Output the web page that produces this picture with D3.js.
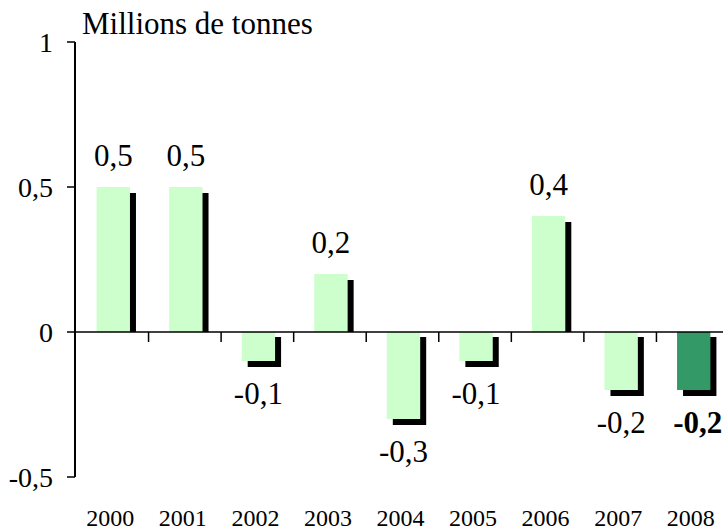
<!DOCTYPE html>
<html>
<head>
<meta charset="utf-8">
<script src="https://cdn.jsdelivr.net/npm/d3@7"></script>
</head>
<body style="margin:0">
<svg class="chart"></svg>
<script>
var years = ["2000", "2001", "2002", "2003", "2004", "2005", "2006", "2007", "2008"];
var values = [0.5, 0.5, -0.1, 0.2, -0.3, -0.1, 0.4, -0.2, -0.2];
var labels = ["0,5", "0,5", "-0,1", "0,2", "-0,3", "-0,1", "0,4", "-0,2", "-0,2"];
var yTicks = [-0.5, 0, 0.5, 1];
var yTickLabels = ["-0,5", "0", "0,5", "1"];
var highlight = "2008";
var unit = "Millions de tonnes";

(function show() {
    'use strict';

    var width = 723, height = 530;
    var font = "Liberation Serif";
    var svg = d3.select(".chart")
        .attr("width", width).attr("height", height);

    var axisX = 75;

    var x = d3.scaleBand().domain(years).range([77, 730])
        .paddingInner(0.54).paddingOuter(0.27);
    var y = d3.scaleLinear().domain([-0.5, 1]).range([477, 42]);

    var data = years.map(function(d, i) {
        return {year: d, value: values[i], label: labels[i]};
    });

    // shadows first, bars on top
    svg.selectAll(".shadow").data(data).enter().append("rect")
        .attr("class", "shadow")
        .attr("x", function(d) { return x(d.year) + 6; })
        .attr("y", function(d) { return d.value >= 0 ? y(d.value) + 6 : y(0) + 5; })
        .attr("width", x.bandwidth())
        .attr("height", function(d) {
            return d.value >= 0 ? y(0) - y(d.value) - 6 : y(d.value) - y(0) + 1;
        })
        .attr("fill", "#000");

    svg.selectAll(".bar").data(data).enter().append("rect")
        .attr("class", "bar")
        .attr("x", function(d) { return x(d.year); })
        .attr("y", function(d) { return y(Math.max(0, d.value)); })
        .attr("width", x.bandwidth())
        .attr("height", function(d) { return Math.abs(y(d.value) - y(0)); })
        .attr("fill", function(d) { return d.year === highlight ? "#339966" : "#ccffcc"; });

    // zero line with category ticks
    svg.append("line")
        .attr("x1", axisX).attr("x2", width)
        .attr("y1", y(0)).attr("y2", y(0))
        .attr("stroke", "#000").attr("stroke-width", 1.5);

    var step = x.step();
    svg.selectAll(".xtick").data(years.slice(1)).enter().append("line")
        .attr("x1", function(d) { return x(d) - (step - x.bandwidth()) / 2 - 1; })
        .attr("x2", function(d) { return x(d) - (step - x.bandwidth()) / 2 - 1; })
        .attr("y1", y(0)).attr("y2", y(0) + 10)
        .attr("stroke", "#000").attr("stroke-width", 1.5);

    // y axis
    svg.append("line")
        .attr("x1", axisX).attr("x2", axisX)
        .attr("y1", y(1)).attr("y2", y(-0.5))
        .attr("stroke", "#000").attr("stroke-width", 2);

    svg.selectAll(".ytick").data(yTicks).enter().append("line")
        .attr("x1", axisX - 8).attr("x2", axisX)
        .attr("y1", function(d) { return y(d); })
        .attr("y2", function(d) { return y(d); })
        .attr("stroke", "#000").attr("stroke-width", 1.5);

    svg.selectAll(".ylabel").data(yTicks).enter().append("text")
        .attr("x", 53)
        .attr("y", function(d) { return y(d) + 10; })
        .attr("text-anchor", "end")
        .attr("font-family", font)
        .attr("font-size", 28)
        .text(function(d, i) { return yTickLabels[i]; });

    // unit title
    svg.append("text")
        .attr("x", 82).attr("y", 34)
        .attr("font-family", font)
        .attr("font-size", 31)
        .text(unit);

    // value labels
    svg.selectAll(".value").data(data).enter().append("text")
        .attr("x", function(d) { return x(d.year) + x.bandwidth() / 2 + (d.year === highlight ? 4 : 0); })
        .attr("y", function(d) { return d.value >= 0 ? y(d.value) - 21 : y(d.value) + 43; })
        .attr("text-anchor", "middle")
        .attr("font-family", font)
        .attr("font-size", 31)
        .attr("font-weight", function(d) { return d.year === highlight ? "bold" : "normal"; })
        .text(function(d) { return d.label; });

    // year labels
    svg.selectAll(".year").data(years).enter().append("text")
        .attr("x", function(d) { return x(d) + x.bandwidth() / 2 - 3; })
        .attr("y", 526)
        .attr("text-anchor", "middle")
        .attr("font-family", font)
        .attr("font-size", 24)
        .text(function(d) { return d; });
})();
</script>
</body>
</html>
